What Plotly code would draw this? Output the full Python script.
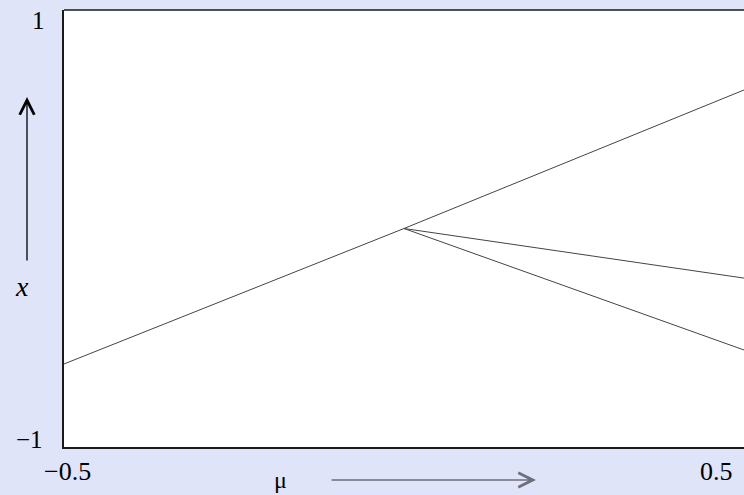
import plotly.graph_objects as go

# bifurcation diagram values
mu_main = [-0.5, 0.0, 0.5]
x_main = [-0.62, 0.0, 0.634]
mu_branch = [0.0, 0.5]
x_upper = [0.0, -0.227]
x_lower = [0.0, -0.556]

y_tick_labels = ['1', '\u22121']
x_tick_labels = ['\u22120.5', '0.5']

bg = '#dfe4f9'
line_col = '#444444'
serif = 'Liberation Serif, Times New Roman, serif'

W, H = 744, 495
L, R, T, B = 64, 0, 10, 48
pw, ph = W - L - R, H - T - B

def px(x):
    return (x - L) / pw

def py(y):
    return (H - B - y) / ph

def label(text, x, y, size):
    fig.add_annotation(text=text, x=px(x), y=py(y), xref='paper', yref='paper',
                       xanchor='center', yanchor='middle', showarrow=False,
                       borderpad=0, font=dict(family=serif, size=size, color='black'))

fig = go.Figure()
fig.add_trace(go.Scatter(x=mu_main, y=x_main, mode='lines',
                         line=dict(color=line_col, width=1)))
fig.add_trace(go.Scatter(x=mu_branch, y=x_upper, mode='lines',
                         line=dict(color=line_col, width=1)))
fig.add_trace(go.Scatter(x=mu_branch, y=x_lower, mode='lines',
                         line=dict(color=line_col, width=1)))

fig.update_xaxes(range=[-0.5, 0.5], showgrid=False, zeroline=False,
                 showticklabels=False, ticks='', showline=True,
                 linecolor='#1a1a1a', linewidth=1.5)
fig.update_yaxes(range=[-1, 1], showgrid=False, zeroline=False,
                 showticklabels=False, ticks='', showline=True,
                 linecolor='#1a1a1a', linewidth=1.5)

# top border only, right side runs off the page
fig.add_shape(type='line', xref='paper', yref='paper', x0=0, x1=1, y0=1, y1=1,
              line=dict(color='#1a1a1a', width=1.5))

# tick labels
label(y_tick_labels[0], 38, 20, 25)
label(y_tick_labels[1], 29, 439, 25)
label(x_tick_labels[0], 67, 471, 26)
label(x_tick_labels[1], 716, 471, 26)

# axis names
label('\u03bc', 280, 480, 24)
label('<i>x</i>', 22, 286, 28)

# arrows
fig.add_annotation(x=px(536), y=py(480), ax=-206, ay=0, xref='paper', yref='paper',
                   text='', showarrow=True, arrowhead=5, arrowsize=2.2, arrowwidth=1.3,
                   arrowcolor='#6e6e78')
fig.add_annotation(x=px(27), y=py(97), ax=0, ay=165, xref='paper', yref='paper',
                   text='', showarrow=True, arrowhead=5, arrowsize=2.2, arrowwidth=1.3,
                   arrowcolor='black')

fig.update_layout(width=W, height=H, showlegend=False,
                  paper_bgcolor=bg, plot_bgcolor='white',
                  margin=dict(l=L, r=R, t=T, b=B))
fig.write_html('out.html', config={'displayModeBar': False},
               post_script="document.body.style.margin='0px';")
